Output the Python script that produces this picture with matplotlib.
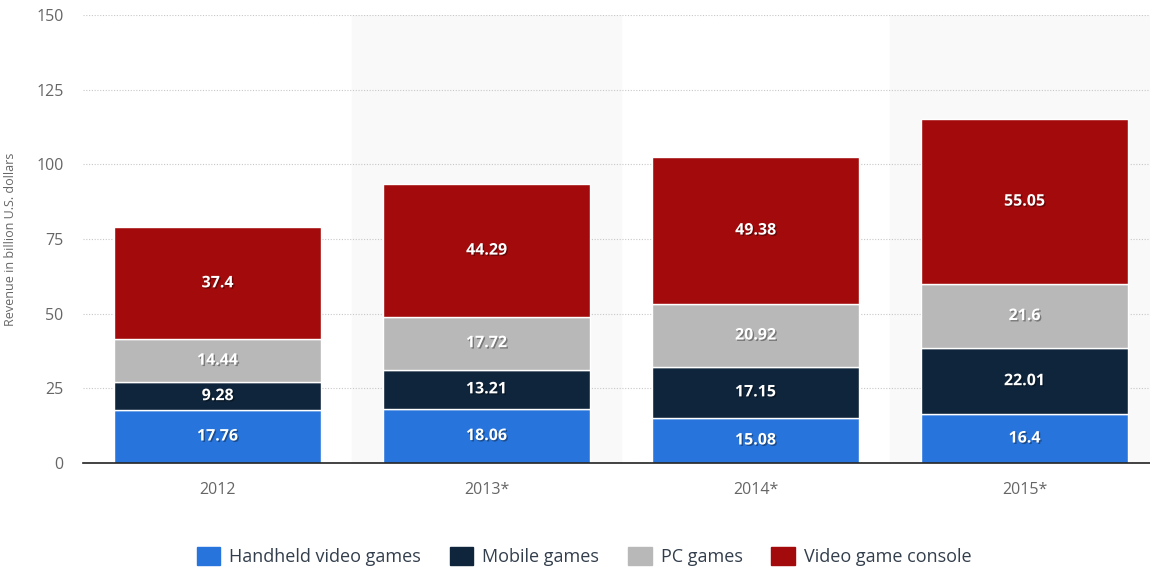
import matplotlib.pyplot as plt
import matplotlib.patheffects as pe
from matplotlib.patches import Patch
import numpy as np

years = ['2012', '2013*', '2014*', '2015*']
handheld = [17.76, 18.06, 15.08, 16.4]
mobile = [9.28, 13.21, 17.15, 22.01]
pc = [14.44, 17.72, 20.92, 21.6]
console = [37.4, 44.29, 49.38, 55.05]

series = ['Handheld video games', 'Mobile games', 'PC games', 'Video game console']
colors = ['#2775dc', '#0f253b', '#b8b8b8', '#a30a0b']

plt.rcParams['font.family'] = ['Open Sans', 'DejaVu Sans']

fig = plt.figure(figsize=(11.5, 5.67), dpi=100)
ax = fig.add_axes([0.0722, 0.1834, 0.9357, 0.790])

x = np.arange(len(years))

# alternate column shading
for i in x:
    if i % 2 == 1:
        ax.axvspan(i - 0.5, i + 0.5, color='#f9f9f9', zorder=0)

bottom = np.zeros(len(years))
for vals, col in zip([handheld, mobile, pc, console], colors):
    vals = np.array(vals)
    ax.bar(x, vals, width=0.77, bottom=bottom, color=col,
           edgecolor='white', linewidth=1.0, zorder=3)
    for xi, b, v in zip(x, bottom, vals):
        ax.text(xi, b + v / 2, f'{v:g}', ha='center', va='center',
                color='white', fontsize=11.5, fontweight='bold', zorder=5,
                path_effects=[pe.withSimplePatchShadow(offset=(1, -1), shadow_rgbFace='black', alpha=0.35)])
    bottom += vals

ax.set_xlim(-0.5, len(years) - 0.5)
ax.set_ylim(0, 150)
ax.set_yticks([0, 25, 50, 75, 100, 125, 150])
ax.yaxis.grid(True, linestyle=(0, (1, 1.5)), color='#c8c8c8', linewidth=0.8, zorder=1)
ax.set_axisbelow(True)

ax.set_xticks(x)
ax.set_xticklabels(years)
ax.tick_params(axis='both', length=0, colors='#666666', labelsize=11.5)
ax.tick_params(axis='x', pad=14)
ax.tick_params(axis='y', pad=14)

for s in ['top', 'right', 'left']:
    ax.spines[s].set_visible(False)
ax.spines['bottom'].set_color('#222222')
ax.spines['bottom'].set_linewidth(1.2)
ax.spines['bottom'].set_zorder(6)

ax.set_ylabel('Revenue in billion U.S. dollars', color='#666666', fontsize=9, labelpad=14)

handles = [Patch(facecolor=c, edgecolor=c) for c in colors]
fig.legend(handles, series, loc='center', bbox_to_anchor=(0.508, 0.019),
           ncol=4, frameon=False, fontsize=13, handlelength=1.3, handleheight=1.2,
           handletextpad=0.5, columnspacing=1.6, labelcolor='#333e4c')

fig.savefig('out.png', dpi=100)
